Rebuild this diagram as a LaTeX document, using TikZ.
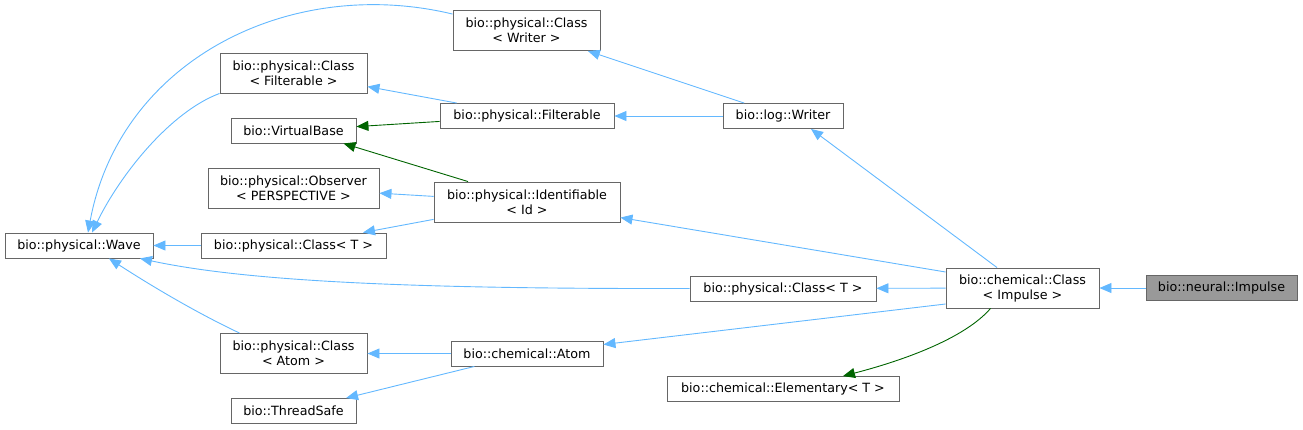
\documentclass[tikz,border=0pt]{standalone}
\usepackage{fontspec}
\setmainfont{DejaVu Sans}
\usetikzlibrary{arrows.meta}
\definecolor{heranca}{HTML}{63B8FF}
\definecolor{protegida}{HTML}{006400}
\definecolor{borda}{HTML}{666666}
\definecolor{atualfill}{HTML}{999999}

\begin{document}
\begin{tikzpicture}[x=1pt, y=-1pt,
    classe/.style={draw=borda, fill=white, line width=0.9pt, align=center, inner sep=0pt,
      minimum height=25pt, font=\fontsize{12.7}{15}\selectfont},
    classe2/.style={classe, minimum height=40pt},
    atual/.style={classe, fill=atualfill},
    pub/.style={draw=heranca, line width=0.9pt, -{Triangle[length=12pt, width=10pt]}},
    prot/.style={pub, draw=protegida}]
  \useasboundingbox (0,0) rectangle (1303,429);
  % coluna 1
  \node[classe, minimum width=148pt] (wave) at (79,245.5) {bio::physical::Wave};
  % coluna 2
  \node[classe2, minimum width=147pt] (clsfilt) at (293.5,73) {bio::physical::Class\\< Filterable >};
  \node[classe, minimum width=125pt] (vbase) at (293.5,130.5) {bio::VirtualBase};
  \node[classe2, minimum width=171pt] (observer) at (293.5,188) {bio::physical::Observer\\< PERSPECTIVE >};
  \node[classe, minimum width=185pt] (clst) at (293.5,245.5) {bio::physical::Class< T >};
  \node[classe2, minimum width=147pt] (clsatom) at (293.5,353.5) {bio::physical::Class\\< Atom >};
  \node[classe, minimum width=125pt] (tsafe) at (293.5,411) {bio::ThreadSafe};
  % coluna 3
  \node[classe2, minimum width=147pt] (clswriter) at (526.5,30.5) {bio::physical::Class\\< Writer >};
  \node[classe, minimum width=174pt] (filt) at (527,116) {bio::physical::Filterable};
  \node[classe2, minimum width=186pt] (ident) at (527,202) {bio::physical::Identifiable\\< Id >};
  \node[classe, minimum width=152pt] (atom) at (527,353.5) {bio::chemical::Atom};
  % coluna 4
  \node[classe, minimum width=120pt] (writer) at (783,116) {bio::log::Writer};
  \node[classe, minimum width=186pt] (clstb) at (783,288.5) {bio::physical::Class< T >};
  \node[classe, minimum width=232pt] (elem) at (783,389) {bio::chemical::Elementary< T >};
  % colunas 5 e 6
  \node[classe2, minimum width=153pt] (chem) at (1022.5,288) {bio::chemical::Class\\< Impulse >};
  \node[atual, minimum width=151pt] (impulse) at (1221.5,288) {bio::neural::Impulse};

  \draw[pub] (impulse) -- (chem);
  \draw[pub] ([xshift=-25.5pt]chem.north) -- ([xshift=28pt]writer.south);
  \draw[pub] ([yshift=16pt]chem.west) -- (ident);
  \draw[pub] (chem) -- (clstb);
  \draw[pub] ([yshift=-16pt]chem.west) -- (atom);
  \draw[prot] ([xshift=-32pt]chem.south) .. controls (965,338) and (905,360) .. ([xshift=60pt]elem.north);
  \draw[pub] (writer) -- (clswriter);
  \draw[pub] (writer) -- (filt);
  \draw[pub] (filt) -- (clsfilt);
  \draw[prot] (filt) -- (vbase);
  \draw[prot] ([xshift=-59pt]ident.north) -- ([xshift=50pt]vbase.south);
  \draw[pub] (ident) -- (observer);
  \draw[pub] (ident) -- (clst);
  \draw[pub] (clst) -- (wave);
  \draw[pub] (atom) -- (clsatom);
  \draw[pub] (atom) -- (tsafe);
  \draw[pub] ([yshift=-4pt]clswriter.north west) .. controls (290,-25) and (120,60) .. ([xshift=9pt]wave.north);
  \draw[pub] (clsfilt.south west) .. controls (170,112) and (120,175) .. ([xshift=13pt]wave.north);
  \draw[pub] ([xshift=20pt]clsatom.north west) .. controls (195,312) and (150,285) .. ([xshift=30pt]wave.south);
  \draw[pub] (clstb.west) .. controls (420,289) and (250,282) .. ([xshift=61pt]wave.south);
\end{tikzpicture}
\end{document}
